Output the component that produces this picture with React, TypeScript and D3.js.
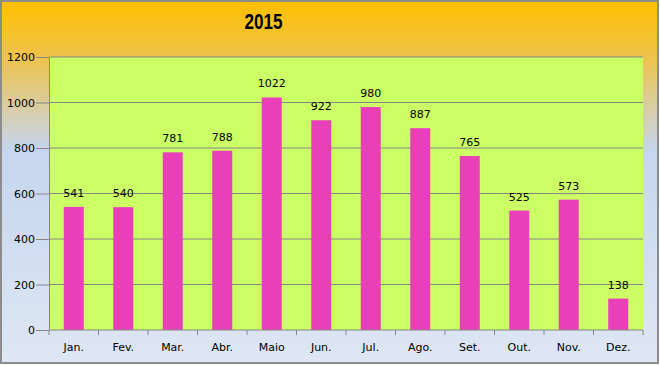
import React, { useEffect, useRef } from 'react';
import * as d3 from 'd3';

const months = ['Jan.', 'Fev.', 'Mar.', 'Abr.', 'Maio', 'Jun.', 'Jul.', 'Ago.', 'Set.', 'Out.', 'Nov.', 'Dez.'];
const values = [541, 540, 781, 788, 1022, 922, 980, 887, 765, 525, 573, 138];
const yTicks = [0, 200, 400, 600, 800, 1000, 1200];
const chartTitle = '2015';

const W = 660;
const H = 365;
const margin = { top: 57, right: 17, bottom: 35, left: 49 };

const App: React.FC = () => {
  const ref = useRef<SVGSVGElement>(null);

  useEffect(() => {
    if (!ref.current) return;
    const root = d3.select(ref.current);
    root.selectAll('*').remove();

    const width = W - margin.left - margin.right;
    const height = H - margin.top - margin.bottom;

    // background gradient
    const defs = root.append('defs');
    const grad = defs.append('linearGradient')
      .attr('id', 'bg')
      .attr('x1', 0).attr('y1', 0).attr('x2', 0).attr('y2', 1);
    grad.append('stop').attr('offset', '0%').attr('stop-color', '#FFC000');
    grad.append('stop').attr('offset', '16%').attr('stop-color', '#EEC34E');
    grad.append('stop').attr('offset', '41%').attr('stop-color', '#C6D5EE');
    grad.append('stop').attr('offset', '100%').attr('stop-color', '#DEE7F3');

    root.append('rect')
      .attr('x', 1).attr('y', 1)
      .attr('width', W - 3).attr('height', H - 3)
      .attr('fill', 'url(#bg)')
      .attr('stroke', '#8C8C8C')
      .attr('stroke-width', 2);

    root.append('text')
      .attr('x', 263.5)
      .attr('y', 29)
      .attr('text-anchor', 'middle')
      .attr('textLength', 38)
      .attr('lengthAdjust', 'spacingAndGlyphs')
      .style('font-family', '"Liberation Sans", Arial, sans-serif')
      .style('font-weight', 'bold')
      .style('font-size', '22px')
      .attr('fill', '#000')
      .text(chartTitle);

    const g = root.append('g').attr('transform', `translate(${margin.left},${margin.top})`);

    const x = d3.scaleBand().domain(months).range([0, width]).paddingInner(0.596).paddingOuter(0.298);
    const band = d3.scaleBand().domain(months).range([0, width]);
    const y = d3.scaleLinear().domain([0, 1200]).range([height, 0]);

    g.append('rect')
      .attr('width', width).attr('height', height)
      .attr('fill', '#CCFF66');

    // gridlines
    g.selectAll('line.grid')
      .data(yTicks.filter(t => t > 0))
      .join('line')
      .attr('class', 'grid')
      .attr('x1', 0).attr('x2', width)
      .attr('y1', d => y(d)).attr('y2', d => y(d))
      .attr('stroke', '#868686')
      .attr('stroke-width', 1);

    // bars
    g.selectAll('rect.bar')
      .data(values)
      .join('rect')
      .attr('class', 'bar')
      .attr('x', (d, i) => x(months[i])!)
      .attr('width', x.bandwidth())
      .attr('y', d => y(d))
      .attr('height', d => height - y(d))
      .attr('fill', '#E940B9');

    // value labels
    g.selectAll('text.val')
      .data(values)
      .join('text')
      .attr('class', 'val')
      .attr('x', (d, i) => band(months[i])! + band.bandwidth() / 2)
      .attr('y', d => y(d) - 10)
      .attr('text-anchor', 'middle')
      .style('font-family', '"DejaVu Sans", sans-serif')
      .style('font-size', '11px')
      .attr('fill', '#000')
      .text(d => d);

    // y axis
    const yAxis = g.append('g')
      .call(d3.axisLeft(y).tickValues(yTicks).tickFormat(d3.format('d')).tickSize(13).tickPadding(1).tickSizeOuter(0));
    yAxis.select('.domain').attr('stroke', '#868686');
    yAxis.selectAll('line').attr('stroke', '#868686');
    yAxis.selectAll('text')
      .style('font-family', '"DejaVu Sans", sans-serif')
      .style('font-size', '11px')
      .attr('fill', '#000');

    // x axis
    const xAxisG = g.append('g').attr('transform', `translate(0,${height})`);
    xAxisG.append('line')
      .attr('x1', 0).attr('x2', width)
      .attr('stroke', '#868686');
    xAxisG.selectAll('line.tick')
      .data(d3.range(months.length + 1))
      .join('line')
      .attr('class', 'tick')
      .attr('x1', i => i * band.step()).attr('x2', i => i * band.step())
      .attr('y1', 0).attr('y2', 5)
      .attr('stroke', '#868686');
    xAxisG.selectAll('text.lbl')
      .data(months)
      .join('text')
      .attr('class', 'lbl')
      .attr('x', d => band(d)! + band.bandwidth() / 2)
      .attr('y', 21)
      .attr('text-anchor', 'middle')
      .style('font-family', '"DejaVu Sans", sans-serif')
      .style('font-size', '11px')
      .attr('fill', '#000')
      .text(d => d);
  }, []);

  return (
    <svg ref={ref} width={W} height={H} style={{ position: 'absolute', left: 0, top: 0 }} />
  );
};

export default App;
